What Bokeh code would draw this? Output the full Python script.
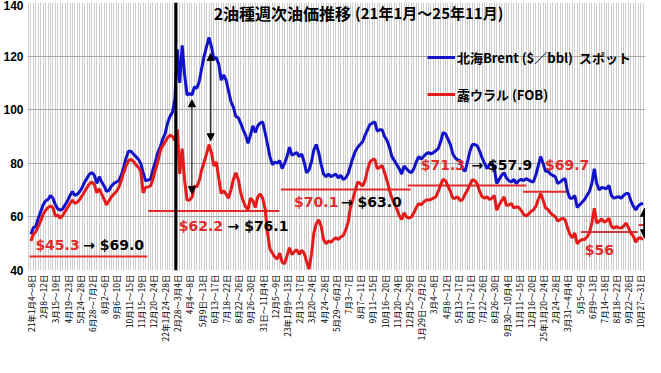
import math
from bokeh.plotting import figure
from bokeh.models import (Range1d, FixedTicker, Span, Arrow, NormalHead, Label,
                          Legend, LegendItem, ColumnDataSource)
from bokeh.embed import file_html
from bokeh.resources import INLINE

# ---------------- data (weekly, Jan 2021 - Nov 2025) ----------------
brent = [53.5,56.0,56.5,59.5,62.0,64.5,66.0,66.5,68.0,67.0,
64.5,63.0,62.5,63.0,64.5,66.0,68.0,69.5,68.0,68.5,
69.5,71.0,73.0,74.5,76.0,76.5,75.5,72.5,75.0,73.0,
71.5,69.5,70.0,71.5,72.5,73.0,73.5,75.5,78.5,82.0,
84.5,84.5,83.5,82.5,81.5,80.0,76.5,73.5,73.8,74.0,
77.5,80.5,84.0,86.0,89.0,91.0,95.0,97.5,99.0,104.0,
122.5,110.0,124.0,113.0,105.5,106.0,105.5,108.5,108.0,110.5,
115.5,120.0,123.5,127.0,123.5,119.0,119.5,117.0,111.0,113.0,
111.0,107.0,103.0,101.0,97.5,97.0,95.0,92.5,90.5,87.5,
90.5,94.0,91.5,94.0,95.0,95.5,91.5,87.0,82.5,79.5,
80.5,80.0,81.0,78.0,80.0,82.5,86.0,83.0,83.5,84.0,
82.5,83.5,80.5,76.5,77.5,80.5,85.0,87.0,84.0,79.5,
76.0,75.0,76.0,75.0,75.5,76.0,74.5,75.5,74.0,74.5,
76.0,79.0,82.0,84.5,86.0,87.0,88.0,90.5,92.5,94.5,
95.0,95.5,92.0,92.5,92.5,90.0,88.5,86.0,82.5,81.0,
79.5,78.0,76.0,79.0,78.0,77.0,76.5,78.0,80.5,82.5,
81.5,82.5,83.5,84.0,83.5,84.0,84.7,85.5,88.0,91.5,
91.0,89.0,87.0,83.5,82.0,81.3,81.0,78.0,77.0,80.5,
84.5,87.0,87.0,86.5,84.5,82.0,80.0,78.0,79.5,80.0,
78.0,72.5,74.0,75.5,76.5,74.5,73.5,73.0,74.0,72.5,
73.5,74.0,73.5,74.3,73.8,73.3,73.0,75.5,79.0,82.5,
80.0,77.0,77.0,76.0,75.5,75.0,72.5,73.0,73.8,74.3,
69.5,67.0,67.0,68.0,63.5,64.5,65.5,66.5,68.0,69.5,
72.5,78.0,72.5,70.0,71.0,70.8,70.5,71.8,68.0,67.0,
67.3,67.5,67.0,68.0,68.7,68.7,66.0,64.0,62.6,64.0,
64.8,65.0]

urals = [51.0,53.5,54.5,56.5,58.5,61.0,62.5,63.5,64.0,63.5,
60.3,60.7,59.5,60.5,62.0,63.5,65.0,66.3,65.0,65.5,
66.5,68.0,69.5,71.0,72.3,73.0,72.0,69.0,70.5,68.5,
66.5,64.5,66.0,67.5,68.5,69.5,71.0,73.5,76.5,79.0,
81.0,81.5,80.7,79.5,78.5,77.0,69.0,71.0,71.2,71.5,
74.0,77.5,80.5,84.5,86.5,88.0,89.5,90.5,90.0,88.5,
92.7,76.0,85.5,73.6,66.3,66.2,67.3,71.5,71.2,73.5,
77.5,80.5,83.5,87.0,84.0,79.0,80.5,74.5,68.7,69.8,
68.5,67.0,70.0,74.0,76.5,74.0,69.0,66.0,63.8,62.8,
67.0,66.0,63.5,67.5,68.5,67.0,63.0,54.0,48.0,46.5,
45.0,44.3,46.5,43.0,42.5,45.5,48.5,46.0,47.0,47.8,
46.0,47.5,46.5,43.5,40.5,46.0,54.0,57.5,58.9,56.5,
51.5,50.0,51.0,50.5,51.5,52.2,51.6,52.5,53.0,55.0,
57.7,63.5,66.5,70.0,73.0,72.5,71.5,73.5,77.5,80.5,
81.3,81.5,78.0,78.5,79.2,76.5,73.5,70.0,67.0,65.0,
63.0,60.5,59.0,61.5,60.0,59.5,60.0,61.5,63.5,65.0,
64.5,65.5,66.3,66.3,66.5,67.0,67.5,69.5,72.0,74.0,
73.5,71.5,69.5,67.0,67.0,67.5,66.0,66.5,68.5,70.0,
72.0,73.9,73.5,72.4,69.5,67.5,67.0,67.5,66.5,67.0,
68.0,62.5,64.5,66.0,67.5,64.2,64.5,65.0,63.3,63.8,
63.5,62.5,61.0,60.3,61.0,62.0,62.6,63.8,66.5,68.7,
66.3,63.3,62.8,61.5,60.7,60.1,58.5,59.0,59.5,59.0,
56.0,53.5,52.2,54.0,50.0,51.0,51.6,51.6,52.5,54.0,
57.7,63.2,57.7,58.3,59.3,58.0,58.5,59.5,56.5,55.8,
56.4,56.0,55.8,56.5,57.7,56.0,54.0,52.8,50.6,52.0,
52.2,51.6]

tick_labels = ["21年1月4～8日","2月8～12日","3月15～19日","4月19～23日","5月24～28日",
"6月28～7月2日","8月2～6日","9月6～10日","10月11～15日","11月15～19日",
"12月20～24日","22年1月24～28日","2月28～3月4日","4月4～8日","5月9日～13日",
"6月13～17日","7月18～22日","8月22～26日","9月26～30日","31日～11月4日",
"12月5～9日","23年1月9～13日","2月13～17日","3月20～24日","4月24～28日",
"5月29～6月2日","7月3～7日","8月7～11日","9月11～15日","10月16～20日",
"11月20～24日","12月25～29日","1月29日～2月2日","3月4～8日","4月8～12日",
"5月13～17日","6月17～21日","7月22～26日","8月26～30日","9月30～10月4日",
"11月11～15日","12月16～20日","25年1月20～24日","2月24～28日","3月31～4月4日",
"5月5～9日","6月9～13日","7月14～18日","8月18～22日","9月22～26日","10月27～31日"]

series_names = ["北海Brent ($／bbl)  スポット", "露ウラル (FOB)"]
title_main = "2油種週次油価推移"
title_sub = "(21年1月～25年11月)"

# annotation reference levels (period averages)
lvl_y = [45.2, 62.2, 70.2, 71.7, 69.4, 54.4, 57.0]
lvl_x0 = [-0.6, 48.1, 102.5, 154.5, 201.8, 225.5, 249.2]
lvl_x1 = [47.7, 101.8, 155.7, 203.1, 219.4, 248.8, 254.0]
lvl_col = ["#e22b2b"] * 5 + ["#c00000", "#c00000"]
lvl_w = [2, 2, 2, 2, 2, 1.5, 1.5]

ann_red = [("$45.3", 1.8, 49.7), ("$62.2", 60.6, 56.6), ("$70.1", 107.9, 65.4),
           ("$71.3", 159.8, 79.2), ("$69.7", 210.8, 79.2), ("$56", 227.1, 47.8)]
ann_blk = [("→ $69.0", 21.4, 49.7), ("→ $76.1", 80.6, 56.6), ("→ $63.0", 127.1, 65.4),
           ("→ $57.9", 180.6, 79.2)]

arrows = [(66.0, 103.7, 66.0, 68.7, 1), (73.7, 121.0, 73.7, 88.4, 1), (251.6, 63.2, 251.6, 52.2, 2.5)]
war_week = 59.4

BLUE = "#1212c8"
RED = "#e41b1b"

weeks = list(range(len(brent)))
src = ColumnDataSource(dict(week=weeks, brent=brent, urals=urals))

p = figure(width=645, height=357, output_backend="svg", toolbar_location=None,
           title=None,
           x_range=Range1d(-1.43, 252.0), y_range=Range1d(40, 140),
           min_border_left=24, min_border_right=0, min_border_top=2, min_border_bottom=87)
p.outline_line_color = None
p.background_fill_color = "white"
p.border_fill_color = "white"

# axes
tick_idx = list(range(0, 5 * len(tick_labels), 5))
p.xaxis.ticker = FixedTicker(ticks=tick_idx, minor_ticks=list(range(-1, 253)))
p.xaxis.major_label_overrides = {t: l for t, l in zip(tick_idx, tick_labels)}
p.xaxis.major_label_orientation = math.pi / 2
p.xaxis.major_label_text_font = "Noto Sans CJK JP"
p.xaxis.major_label_text_font_size = "8.5px"
p.xaxis.major_label_text_color = "black"
p.xaxis.major_label_standoff = 4
for ax in (p.xaxis, p.yaxis):
    ax.axis_line_color = None
    ax.major_tick_line_color = None
    ax.minor_tick_line_color = None
    ax.major_tick_out = 0
    ax.minor_tick_out = 0
    ax.major_tick_in = 0
    ax.minor_tick_in = 0
p.yaxis.ticker = FixedTicker(ticks=[40, 60, 80, 100, 120, 140])
p.yaxis.major_label_text_font = "Liberation Sans"
p.yaxis.major_label_text_font_style = "bold"
p.yaxis.major_label_text_font_size = "12px"
p.yaxis.major_label_text_color = "black"
p.yaxis.major_label_standoff = 4

p.xgrid.grid_line_color = "#cdcdcd"
p.xgrid.minor_grid_line_color = "#cdcdcd"
p.ygrid.grid_line_color = "#a8a8a8"

# level lines
p.segment(x0=lvl_x0, y0=lvl_y, x1=lvl_x1, y1=lvl_y, line_color=lvl_col, line_width=lvl_w)

# series
rb = p.line("week", "brent", source=src, line_color=BLUE, line_width=3)
rr = p.line("week", "urals", source=src, line_color=RED, line_width=3)

# war line
p.add_layout(Span(location=war_week, dimension="height", line_color="black", line_width=3))

# arrows
for x0, y0, x1, y1, w in arrows:
    hs = 7 if w < 2 else 8
    p.add_layout(Arrow(x_start=x0, y_start=y0, x_end=x1, y_end=y1, line_color="black", line_width=w,
                       start=NormalHead(size=hs, fill_color="black", line_color="black"),
                       end=NormalHead(size=hs, fill_color="black", line_color="black")))

# texts
for t, x, y in ann_red:
    p.add_layout(Label(x=x, y=y, text=t, text_font="DejaVu Sans", text_font_style="bold",
                       text_font_size="14px", text_color="#e22b2b", text_baseline="middle",
                       text_align="left"))
for t, x, y in ann_blk:
    p.add_layout(Label(x=x, y=y, text=t, text_font="DejaVu Sans", text_font_style="bold",
                       text_font_size="14px", text_color="black", text_baseline="middle",
                       text_align="left"))

p.add_layout(Label(x=74.9, y=136.1, text=title_main, text_font="Noto Sans CJK JP",
                   text_font_style="bold", text_font_size="16px", text_color="black",
                   text_baseline="middle", text_align="left"))
p.add_layout(Label(x=132.9, y=136.1, text=title_sub, text_font="Noto Sans CJK JP",
                   text_font_style="bold", text_font_size="15px", text_color="black",
                   text_baseline="middle", text_align="left"))

legend = Legend(items=[LegendItem(label=series_names[0], renderers=[rb]),
                       LegendItem(label=series_names[1], renderers=[rr])],
                location=(400, 166), padding=0, margin=0, spacing=17,
                label_height=20, glyph_height=20, glyph_width=28, label_standoff=2,
                background_fill_alpha=0, border_line_alpha=0,
                label_text_font="Noto Sans CJK JP", label_text_font_style="bold",
                label_text_font_size="13px", label_text_color="black")
p.add_layout(legend)

open("out.html", "w").write(file_html(p, INLINE))
